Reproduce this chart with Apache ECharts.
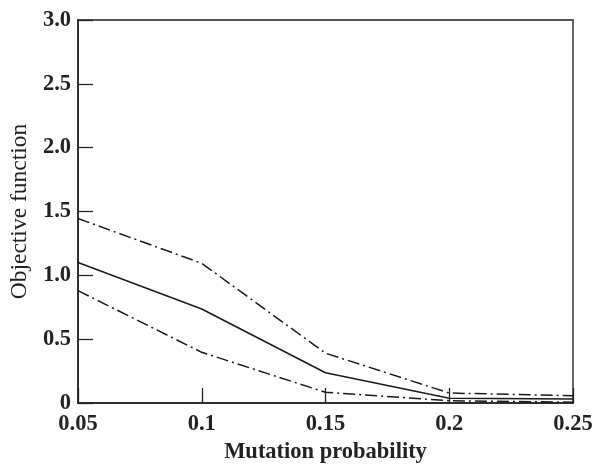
<!DOCTYPE html>
<html>
<head>
<meta charset="utf-8">
<script src="https://cdn.jsdelivr.net/npm/echarts@6/dist/echarts.min.js"></script>
<style>
html,body{margin:0;padding:0;background:#fff;}
#chart{width:595px;height:464px;}
</style>
</head>
<body>
<div id="chart"></div>
<script>
const categories = ['0.05', '0.1', '0.15', '0.2', '0.25'];
const upperValues = [1.445, 1.094, 0.39, 0.078, 0.057];
const meanValues = [1.10, 0.736, 0.237, 0.038, 0.032];
const lowerValues = [0.88, 0.397, 0.084, 0.018, 0.006];
const yTickLabels = ['0', '0.5', '1.0', '1.5', '2.0', '2.5', '3.0'];

const FONT = '"Liberation Serif", "Times New Roman", serif';
const chart = echarts.init(document.getElementById('chart'), null, {renderer: 'canvas'});
const dashDot = {color: '#1a1a1a', width: 1.5, type: [12, 4, 2, 4]};
chart.setOption({
  animation: false,
  backgroundColor: '#fff',
  grid: {left: 78, right: 22, top: 20, bottom: 61, containLabel: false, outerBoundsMode: 'none',
    show: true, borderColor: '#555', borderWidth: 1.8, backgroundColor: 'transparent'},
  xAxis: {
    type: 'category',
    data: categories,
    boundaryGap: false,
    name: 'Mutation probability',
    nameLocation: 'middle',
    nameGap: 38,
    nameTextStyle: {fontFamily: FONT, fontSize: 22.5, fontWeight: 'bold', color: '#222'},
    axisLine: {show: true, lineStyle: {color: '#222', width: 1.5}},
    axisTick: {show: true, inside: true, length: 15, alignWithLabel: true, lineStyle: {color: '#222', width: 1.3}},
    axisLabel: {fontFamily: FONT, fontSize: 22.5, fontWeight: 'bold', color: '#222', margin: 10, interval: 0},
    splitLine: {show: false}
  },
  yAxis: {
    type: 'value',
    min: 0,
    max: 3,
    interval: 0.5,
    name: 'Objective function',
    nameLocation: 'middle',
    nameGap: 45,
    nameTextStyle: {fontFamily: FONT, fontSize: 23.5, color: '#222'},
    axisLine: {show: true, lineStyle: {color: '#222', width: 1.5}},
    axisTick: {show: true, inside: true, length: 15, lineStyle: {color: '#222', width: 1.3}},
    axisLabel: {fontFamily: FONT, fontSize: 22.5, fontWeight: 'bold', color: '#222', margin: 7,
      formatter: function (v) { return yTickLabels[Math.round(v / 0.5)]; }},
    splitLine: {show: false}
  },
  series: [
    {type: 'line', data: upperValues, symbol: 'none', lineStyle: dashDot, z: 3},
    {type: 'line', data: meanValues, symbol: 'none', lineStyle: {color: '#1a1a1a', width: 1.5, type: 'solid'}, z: 3},
    {type: 'line', data: lowerValues, symbol: 'none', lineStyle: dashDot, z: 3}
  ]
});
</script>
</body>
</html>
